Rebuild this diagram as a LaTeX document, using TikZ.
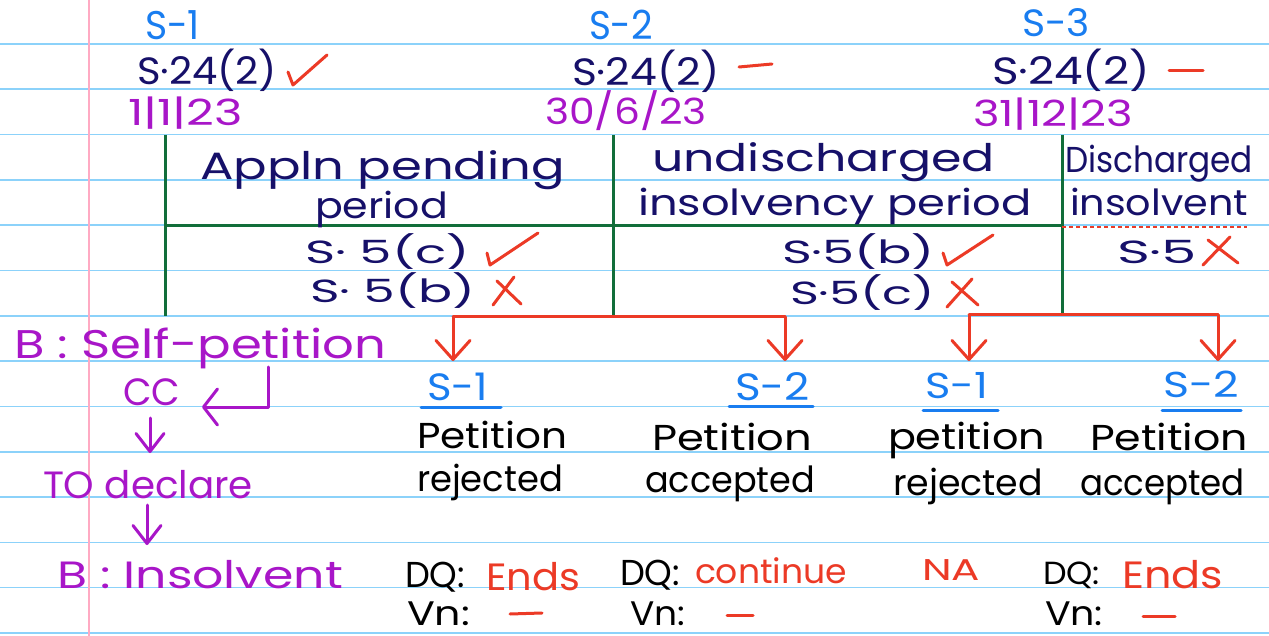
\documentclass[tikz,border=0pt]{standalone}
\usepackage{fontspec}
\setmainfont{Poppins}
\usepackage{graphicx}
\usetikzlibrary{arrows.meta}
\definecolor{ruleblue}{RGB}{140,210,250}
\definecolor{marginpink}{RGB}{255,170,195}
\definecolor{sblue}{RGB}{25,125,240}
\definecolor{navy}{RGB}{22,16,105}
\definecolor{purp}{RGB}{168,22,200}
\definecolor{hred}{RGB}{236,58,38}
\definecolor{tgreen}{RGB}{18,110,58}
\newcommand\fitw[2]{\resizebox{#1pt}{\height}{#2}}
\tikzset{
  txt/.style={anchor=base west, inner sep=0pt, outer sep=0pt},
  fs/.style={font=\fontsize{#1}{#1}\selectfont},
  tline/.style={tgreen, line width=3pt},
  redline/.style={hred, line width=3pt, line cap=round, line join=round},
  redarrow/.style={redline, -{Straight Barb[length=19pt,width=34pt,round]}},
  purparrow/.style={purp, line width=3pt, line cap=round, line join=round, -{Straight Barb[length=18pt,width=28pt,round]}},
  hookarrow/.style={purp, line width=3pt, line cap=round, line join=round, -{Straight Barb[length=14pt,width=36pt,round]}},
  tick/.style={hred, line width=3pt, line cap=round, line join=round},
  uline/.style={sblue, line width=3pt, line cap=round}
}
\begin{document}
\begin{tikzpicture}[x=1pt,y=-1pt]
\useasboundingbox (0,0) rectangle (1269,636);
\fill[white] (0,0) rectangle (1269,636);
% ruled paper
\foreach \k in {0,...,13}
  \draw[ruleblue, line width=1.6pt] (0,{44+45.3*\k}) -- (1269,{44+45.3*\k});
\draw[marginpink, line width=1.5pt] (89,0) -- (89,636);

% top headings
\node[txt, fs=40, text=sblue] (ha) at (145,40) {\fitw{55}{S-1}};
\node[txt, fs=38, text=navy] (sa) at (137,85) {\fitw{140}{S·24(2)}};
\node[txt, fs=36, text=purp] (da) at (128,126) {\fitw{115}{1|1|23}};
\node[txt, fs=40, text=sblue] (hb) at (589,40) {\fitw{64}{S-2}};
\node[txt, fs=38, text=navy] (sb) at (572,86) {\fitw{148}{S·24(2)}};
\node[txt, fs=36, text=purp] (db) at (545,125) {\fitw{162}{30/6/23}};
\node[txt, fs=38, text=sblue] (hc) at (1022,37) {\fitw{68}{S-3}};
\node[txt, fs=38, text=navy] (sc) at (992,85) {\fitw{158}{S·24(2)}};
\node[txt, fs=36, text=purp] (dc) at (973,127) {\fitw{160}{31|12|23}};
\draw[tick] (288,72) -- (293,85) -- (327,55);
\draw[tick] (739,67) -- (772,64);
\draw[tick] (1169,71) -- (1203,71);

% table
\draw[tline] (165,135) -- (165,316);
\draw[tline] (613,135) -- (613,316);
\draw[tline] (1062,135) -- (1062,316);
\draw[tline] (165,226) -- (1062,226);
\draw[hred, line width=2pt, dash pattern=on 4pt off 3pt] (1062,227) -- (1247,227);

\node[txt, fs=38, text=navy] (t1) at (200,180) {\fitw{365}{Appln pending}};
\node[txt, fs=36, text=navy] (t2) at (315,219) {\fitw{133}{period}};
\node[txt, fs=38, text=navy] (t3) at (652,172) {\fitw{343}{undischarged}};
\node[txt, fs=36, text=navy] (t4) at (638,216) {\fitw{394}{insolvency period}};
\node[txt, fs=36, text=navy] (t5) at (1065,173) {\fitw{188}{Discharged}};
\node[txt, fs=36, text=navy] (t6) at (1070,216) {\fitw{178}{insolvent}};

\node[txt, fs=32, text=navy] (r1) at (305,264) {\fitw{165}{S· 5(c)}};
\node[txt, fs=32, text=navy] (r2) at (310,303) {\fitw{165}{S· 5(b)}};
\node[txt, fs=32, text=navy] (r3) at (782,264) {\fitw{153}{S·5(b)}};
\node[txt, fs=32, text=navy] (r4) at (790,305) {\fitw{145}{S·5(c)}};
\node[txt, fs=32, text=navy] (r5) at (1117,264) {\fitw{80}{S·5}};
\draw[tick] (487,253) -- (490,265) -- (538,233);
\draw[tick] (497,281) -- (521,304);
\draw[tick] (514,277) -- (493,305);
\draw[tick] (943,253) -- (947,265) -- (993,235);
\draw[tick] (952,282) -- (978,305);
\draw[tick] (972,279) -- (947,307);
\draw[tick] (1208,240) -- (1238,263);
\draw[tick] (1230,237) -- (1203,265);

% red brackets
\coordinate (bl) at (453,317);
\coordinate (br) at (785,317);
\coordinate (cl) at (969,315);
\coordinate (cr) at (1218,315);
\coordinate (tbl) at (453,361);
\coordinate (tbr) at (785,361);
\coordinate (tcl) at (969,361);
\coordinate (tcr) at (1218,361);
\draw[redline] (bl) -- (br);
\draw[redline] (cl) -- (cr);
\draw[redarrow] (bl) -- (tbl);
\draw[redarrow] (br) -- (tbr);
\draw[redarrow] (cl) -- (tcl);
\draw[redarrow] (cr) -- (tcr);

% left flow
\node[txt, fs=40, text=purp] (bs) at (14,358) {\fitw{372}{B : Self-petition}};
\node[txt, fs=38, text=purp] (cc) at (123,405) {\fitw{57}{CC}};
\node[txt, fs=38, text=purp] (td) at (43,498) {\fitw{210}{TO declare}};
\node[txt, fs=38, text=purp] (bi) at (57,588) {\fitw{286}{B : Insolvent}};
\coordinate (hk1) at (268,367);
\coordinate (hk2) at (268,407);
\coordinate (hk3) at (202,407);
\draw[hookarrow] (hk1) -- (hk2) -- (hk3);
\coordinate (da1) at (150,418);
\coordinate (da2) at (150,453);
\coordinate (db1) at (147,505);
\coordinate (db2) at (147,545);
\draw[purparrow] (da1) -- (da2);
\draw[purparrow] (db1) -- (db2);

% outcomes
\node[txt, fs=38, text=sblue] (o1) at (427,400) {\fitw{61}{S-1}};
\node[txt, fs=38, text=sblue] (o2) at (735,400) {\fitw{75}{S-2}};
\node[txt, fs=36, text=sblue] (o3) at (925,398) {\fitw{63}{S-1}};
\node[txt, fs=36, text=sblue] (o4) at (1163,397) {\fitw{76}{S-2}};
\draw[uline] (421,407) -- (501,407);
\draw[uline] (729,406) -- (813,406);
\draw[uline] (923,410) -- (998,410);
\draw[uline] (1162,410) -- (1241,410);

\node[txt, fs=36] (p1) at (417,448) {\fitw{150}{Petition}};
\node[txt, fs=36] (q1) at (417,491) {\fitw{146}{rejected}};
\node[txt, fs=36] (p2) at (652,450) {\fitw{160}{Petition}};
\node[txt, fs=36] (q2) at (645,492) {\fitw{170}{accepted}};
\node[txt, fs=36] (p3) at (888,449) {\fitw{157}{petition}};
\node[txt, fs=36] (q3) at (893,495) {\fitw{150}{rejected}};
\node[txt, fs=36] (p4) at (1090,450) {\fitw{158}{Petition}};
\node[txt, fs=36] (q4) at (1080,495) {\fitw{165}{accepted}};

% bottom notes
\node[txt, fs=36] (dq1) at (405,587) {\fitw{60}{DQ:}};
\node[txt, fs=38, text=hred] (e1) at (486,590) {\fitw{94}{Ends}};
\node[txt, fs=34] (vn1) at (407,625) {\fitw{63}{Vn:}};
\draw[tick] (510,614) -- (542,613);
\node[txt, fs=36] (dq2) at (620,585) {\fitw{60}{DQ:}};
\node[txt, fs=34, text=hred] (e2) at (695,583) {\fitw{152}{continue}};
\node[txt, fs=34] (vn2) at (630,625) {\fitw{55}{Vn:}};
\draw[tick] (727,615) -- (753,615);
\node[txt, fs=30, text=hred] (na) at (922,580) {\fitw{58}{NA}};
\node[txt, fs=32] (dq3) at (1043,584) {\fitw{57}{DQ:}};
\node[txt, fs=38, text=hred] (e3) at (1122,588) {\fitw{101}{Ends}};
\node[txt, fs=34] (vn3) at (1045,625) {\fitw{58}{Vn:}};
\draw[tick] (1143,616) -- (1175,616);
\end{tikzpicture}
\end{document}
